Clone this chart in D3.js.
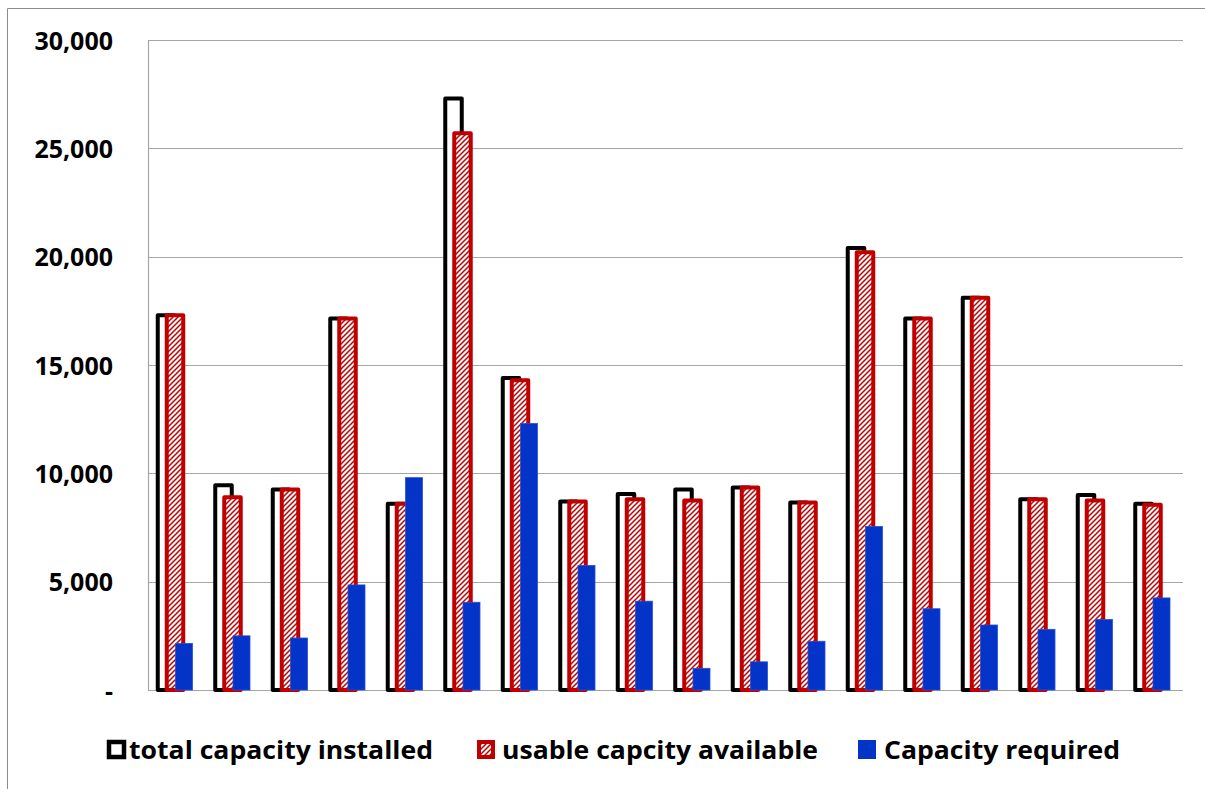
<!DOCTYPE html>
<html>
<head>
<meta charset="utf-8">
<script src="https://cdn.jsdelivr.net/npm/d3@7"></script>
<style>
  html, body { margin: 0; padding: 0; background: #fff; }
  svg { display: block; }
  text { font-family: "Open Sans", "Liberation Sans", sans-serif; font-weight: bold; fill: #000; }
</style>
</head>
<body>
<svg id="chart" width="1205" height="789"></svg>
<script>
// Capacity per site: installed, usable and required
const categories = ["1","2","3","4","5","6","7","8","9","10","11","12","13","14","15","16","17","18"];
const totalInstalled = [17300, 9450, 9250, 17150, 8600, 27300, 14400, 8700, 9050, 9250, 9350, 8650, 20400, 17150, 18100, 8800, 9000, 8600];
const usableAvailable = [17300, 8900, 9250, 17150, 8600, 25700, 14300, 8700, 8800, 8750, 9350, 8650, 20200, 17150, 18100, 8800, 8750, 8550];
const capacityRequired = [2150, 2500, 2400, 4850, 9800, 4050, 12300, 5750, 4100, 1000, 1300, 2250, 7550, 3750, 3000, 2800, 3250, 4250];
const seriesNames = ["total capacity installed", "usable capcity available", "Capacity required"];
const yTicks = [0, 5000, 10000, 15000, 20000, 25000, 30000];

const svg = d3.select("#chart");
const RED = "#C00000", BLUE = "#0433C8", GRID = "#a6a6a6";

// hatch fill for the usable-capacity bars
const defs = svg.append("defs");
const pat = defs.append("pattern")
  .attr("id", "hatch").attr("patternUnits", "userSpaceOnUse")
  .attr("width", 5).attr("height", 5);
pat.append("rect").attr("width", 5).attr("height", 5).attr("fill", "#fff");
pat.append("path").attr("d", "M-1,6 L6,-1 M-1,1 L1,-1 M4,6 L6,4")
  .attr("stroke", RED).attr("stroke-width", 1.5);

// outer chart frame
svg.append("path").attr("d", "M7.5,789 L7.5,8.5 L1205,8.5")
  .attr("fill", "none").attr("stroke", "#8c8c8c").attr("stroke-width", 1);

const x = d3.scaleBand().domain(categories).range([148, 1183]).paddingInner(0).paddingOuter(0);
const y = d3.scaleLinear().domain([0, 30000]).range([690, 40]);
const within = d3.scalePoint().domain(seriesNames).range([18, 36]);

// gridlines + axis
const yAxis = d3.axisLeft(y).tickValues(yTicks)
  .tickFormat(d => d === 0 ? "-" : d3.format(",")(d))
  .tickSize(0).tickPadding(35);
const gA = svg.append("g").attr("transform", "translate(148,0)").call(yAxis);
gA.select(".domain").remove();
gA.selectAll("text").style("font-size", "25px").attr("dy", "0.36em");

svg.append("g").selectAll("line").data(yTicks).join("line")
  .attr("x1", 148).attr("x2", 1183)
  .attr("y1", d => Math.round(y(d)) + 0.5).attr("y2", d => Math.round(y(d)) + 0.5)
  .attr("stroke", GRID).attr("stroke-width", 1.2);
svg.append("line").attr("x1", 148.5).attr("x2", 148.5).attr("y1", y(30000)).attr("y2", y(0))
  .attr("stroke", GRID).attr("stroke-width", 1.2);

const bw = 16.5;
const rows = categories.map((c, i) => ({ c, t: totalInstalled[i], u: usableAvailable[i], r: capacityRequired[i] }));

// total capacity installed: black outline
svg.append("g").selectAll("rect").data(rows).join("rect")
  .attr("x", d => x(d.c) + within(seriesNames[0]) - bw / 2)
  .attr("width", bw)
  .attr("y", d => y(d.t)).attr("height", d => y(0) - y(d.t))
  .attr("fill", "#fff").attr("stroke", "#000").attr("stroke-width", 4)
  .attr("stroke-linejoin", "round");

// usable capacity: red outline with hatch
svg.append("g").selectAll("rect").data(rows).join("rect")
  .attr("x", d => x(d.c) + within(seriesNames[1]) - bw / 2)
  .attr("width", bw)
  .attr("y", d => y(d.u)).attr("height", d => y(0) - y(d.u))
  .attr("fill", "url(#hatch)").attr("stroke", RED).attr("stroke-width", 4)
  .attr("stroke-linejoin", "round");

// capacity required: solid blue
svg.append("g").selectAll("rect").data(rows).join("rect")
  .attr("x", d => x(d.c) + within(seriesNames[2]) - 8.5)
  .attr("width", 17)
  .attr("y", d => y(d.r)).attr("height", d => y(0) - y(d.r))
  .attr("fill", BLUE).attr("stroke", "#2a4fd6").attr("stroke-width", 0.8);

// legend
const legendItems = [
  { name: seriesNames[0], mx: 107, tx: 129, w: 304 },
  { name: seriesNames[1], mx: 477, tx: 502, w: 316 },
  { name: seriesNames[2], mx: 858, tx: 884, w: 236 }
];
const lg = svg.append("g");
const ly = 750;
legendItems.forEach((it, i) => {
  if (i === 0) {
    lg.append("rect").attr("x", it.mx + 2).attr("y", ly - 8).attr("width", 15).attr("height", 15)
      .attr("fill", "#fff").attr("stroke", "#000").attr("stroke-width", 4.5);
  } else if (i === 1) {
    lg.append("rect").attr("x", it.mx + 2).attr("y", ly - 8).attr("width", 14).attr("height", 15)
      .attr("fill", "url(#hatch)").attr("stroke", RED).attr("stroke-width", 4);
  } else {
    lg.append("rect").attr("x", it.mx).attr("y", ly - 10).attr("width", 18).attr("height", 19)
      .attr("fill", BLUE);
  }
  lg.append("text").attr("x", it.tx).attr("y", ly).attr("dy", "0.35em")
    .attr("textLength", it.w).attr("lengthAdjust", "spacingAndGlyphs")
    .style("font-size", "25px").text(it.name);
});
</script>
</body>
</html>
